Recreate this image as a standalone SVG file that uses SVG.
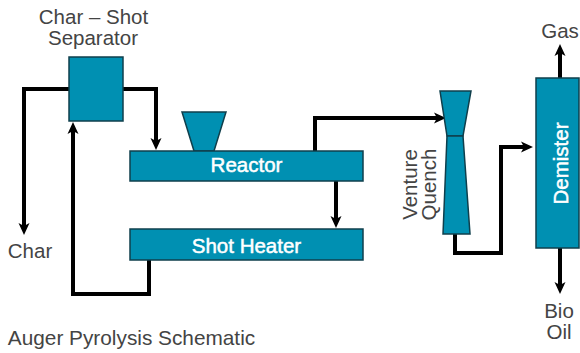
<svg xmlns="http://www.w3.org/2000/svg" width="580" height="353" viewBox="0 0 580 353">
<style>
.n{fill:#0090b2;stroke:#0f3f4c;stroke-width:1.5}
.c{fill:none;stroke:#000;stroke-width:4;stroke-linejoin:miter}
.t{font-family:"Liberation Sans",Arial,sans-serif;font-size:20.5px;fill:#444;text-anchor:middle}
.w{font-family:"Liberation Sans",Arial,sans-serif;font-size:20.5px;fill:#fff;text-anchor:middle;stroke:#fff;stroke-width:.5}
</style>
<defs>
<marker id="a" markerUnits="userSpaceOnUse" markerWidth="14" markerHeight="14" refX="7" refY="6" orient="auto"><path d="M0 0.5L12 6L0 11.500L3 6Z" fill="#000"/></marker>
</defs>
<rect width="580" height="353" fill="#fff"/>
<g id="connectors">
<path class="c" d="M69 89H24V230" marker-end="url(#a)"/>
<path class="c" d="M123 89H156V145" marker-end="url(#a)"/>
<path class="c" d="M149 260V294H73V127" marker-end="url(#a)"/>
<path class="c" d="M315 151V118H441" marker-end="url(#a)"/>
<path class="c" d="M336 181V223" marker-end="url(#a)"/>
<path class="c" d="M455 234V253H501V147H528" marker-end="url(#a)"/>
<path class="c" d="M560 78V49" marker-end="url(#a)"/>
<path class="c" d="M560 248V289" marker-end="url(#a)"/>
</g>
<g id="separator"><rect class="n" x="69" y="57" width="54" height="64"/></g>
<g id="hopper"><path class="n" d="M182 112H226L214 151H194Z"/></g>
<g id="reactor"><rect class="n" x="130" y="151" width="233" height="30"/><text class="w" x="246.500" y="172">Reactor</text></g>
<g id="shot-heater"><rect class="n" x="130" y="229" width="233" height="31"/><text class="w" x="246.500" y="253">Shot Heater</text></g>
<g id="venturi"><path class="n" d="M440 91H471L463 136H447Z"/><path class="n" d="M447 136H463L470 234H443Z"/></g>
<g id="demister"><rect class="n" x="536" y="78" width="43" height="170"/><text class="w" transform="translate(568 163.500) rotate(-90)">Demister</text></g>
<g id="labels">
<text class="t" x="93.500" y="24">Char – Shot</text>
<text class="t" x="93" y="45">Separator</text>
<text class="t" x="30" y="258">Char</text>
<text class="t" x="560" y="38">Gas</text>
<text class="t" x="559" y="318">Bio</text>
<text class="t" x="559" y="339">Oil</text>
<text class="t" transform="translate(417 184.500) rotate(-90)">Venture</text>
<text class="t" transform="translate(436 184.500) rotate(-90)">Quench</text>
<text class="t" x="131.500" y="345" style="font-size:20.800px">Auger Pyrolysis Schematic</text>
</g>
</svg>
